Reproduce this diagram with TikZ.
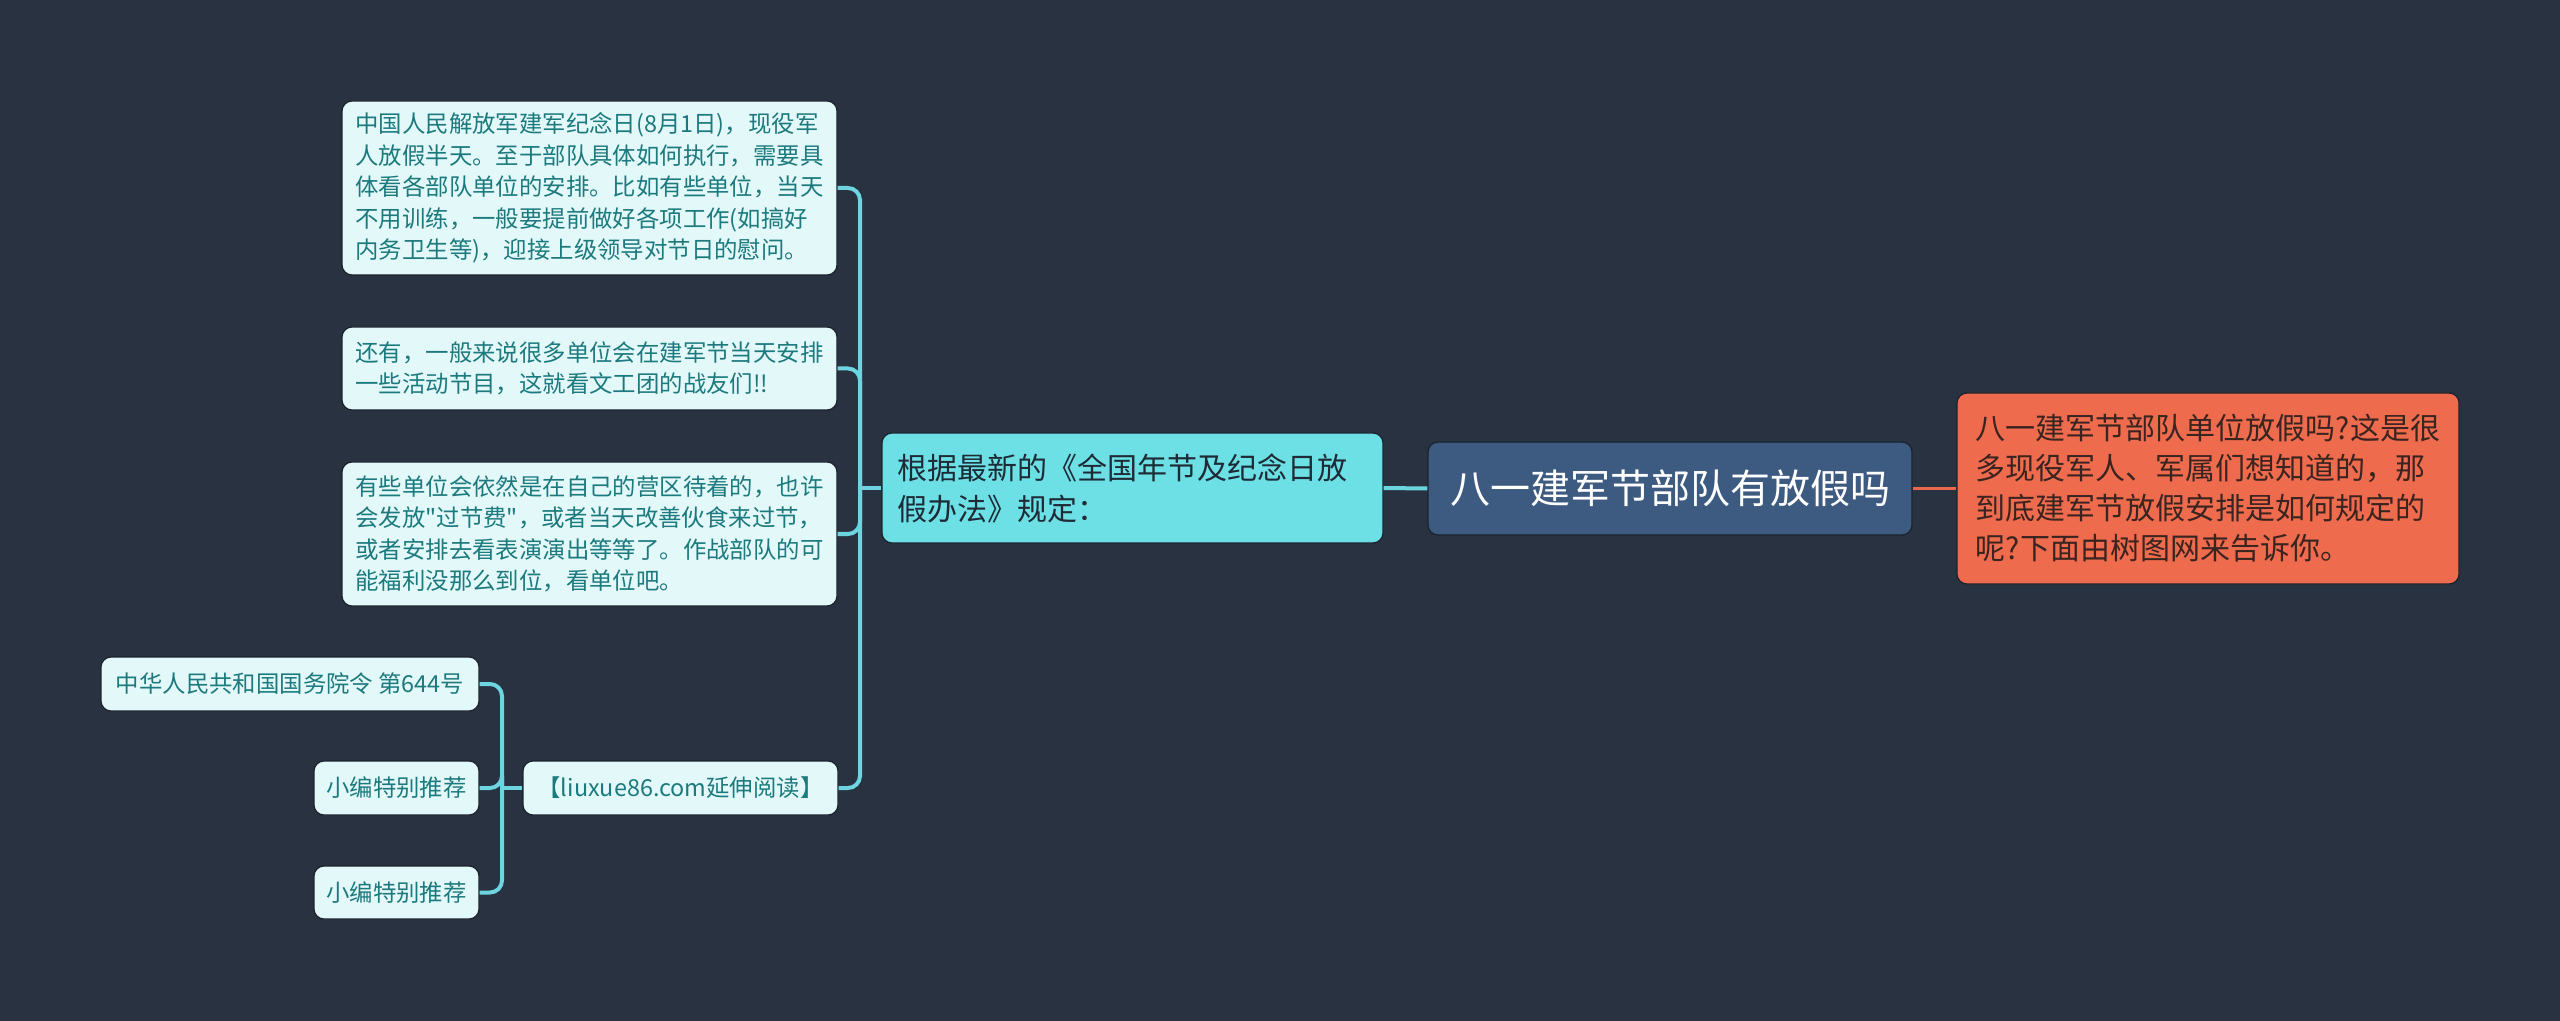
\documentclass[tikz,border=0pt]{standalone}
\usepackage{fontspec}
\newfontfamily\cjk{Noto Sans CJK SC}
\begin{document}
\begin{tikzpicture}[x=0.5pt, y=-0.5pt,
  every node/.style={inner sep=0pt, align=left},
  leaf/.style={fill=leafFill, draw=edgeDark, line width=0.6pt, rounded corners=5pt, text=leafText,
    font=\cjk\fontsize{11.7pt}{15.7pt}\selectfont},
  link/.style={draw=linkCyan, line width=2pt, rounded corners=6pt}]
  \definecolor{bgNavy}{HTML}{293240}
  \definecolor{edgeDark}{HTML}{1B222D}
  \definecolor{leafFill}{HTML}{E3F8F8}
  \definecolor{leafText}{HTML}{1C7A7E}
  \definecolor{midFill}{HTML}{6CE0E5}
  \definecolor{midText}{HTML}{1E2A36}
  \definecolor{rootFill}{HTML}{3D5A80}
  \definecolor{introFill}{HTML}{EF6B4E}
  \definecolor{introText}{HTML}{3A2420}
  \definecolor{linkCyan}{HTML}{6DD5E0}
  \definecolor{linkOrange}{HTML}{E8694C}
  \fill[bgNavy] (0,0) rectangle (2560,1021);
  \useasboundingbox (0,0) rectangle (2560,1021);
  % centre and right
  \node[fill=rootFill, draw=edgeDark, line width=0.6pt, rounded corners=5pt, text=white, align=center,
    font=\cjk\fontsize{20pt}{24pt}\selectfont, minimum width=242pt, minimum height=46.5pt] (title) at (1670,488.5)
    {八一建军节部队有放假吗};
  \node[fill=introFill, draw=edgeDark, line width=0.6pt, rounded corners=5pt, text=introText,
    font=\cjk\fontsize{15pt}{20pt}\selectfont, minimum width=251pt, minimum height=95.5pt] (intro) at (2208,488.5)
    {八一建军节部队单位放假吗?这是很\\多现役军人、军属们想知道的，那\\到底建军节放假安排是如何规定的\\呢?下面由树图网来告诉你。};
  \node[fill=midFill, draw=edgeDark, line width=0.6pt, rounded corners=5pt, text=midText,
    font=\cjk\fontsize{15pt}{20.5pt}\selectfont, text width=235.5pt, inner xsep=7.5pt, minimum height=55pt] (rules) at (1132.5,488)
    {根据最新的《全国年节及纪念日放\\假办法》规定：};
  % leaves
  \node[leaf, minimum width=247.5pt, minimum height=87pt] (holiday) at (589.5,188)
    {中国人民解放军建军纪念日(8月1日)，现役军\\人放假半天。至于部队具体如何执行，需要具\\体看各部队单位的安排。比如有些单位，当天\\不用训练，一般要提前做好各项工作(如搞好\\内务卫生等)，迎接上级领导对节日的慰问。};
  \node[leaf, minimum width=247.5pt, minimum height=41.5pt] (shows) at (589.5,368.5)
    {还有，一般来说很多单位会在建军节当天安排\\一些活动节目，这就看文工团的战友们!!};
  \node[leaf, minimum width=247.5pt, minimum height=72pt] (welfare) at (589.5,534)
    {有些单位会依然是在自己的营区待着的，也许\\会发放"过节费"，或者当天改善伙食来过节，\\或者安排去看表演演出等等了。作战部队的可\\能福利没那么到位，看单位吧。};
  \node[leaf, minimum width=157.5pt, minimum height=27pt] (reading) at (680.5,788)
    {【liuxue86.com延伸阅读】};
  \node[leaf, minimum width=189pt, minimum height=27pt] (decree) at (290,684)
    {中华人民共和国国务院令 第644号};
  \node[leaf, minimum width=82.5pt, minimum height=27pt] (pickA) at (396.5,788) {小编特别推荐};
  \node[leaf, minimum width=82.5pt, minimum height=26.5pt] (pickB) at (396.5,892.5) {小编特别推荐};
  % connectors
  \coordinate (mainbus) at (860,488);
  \coordinate (subbus) at (502,788);
  \draw[link] (title.west) -- (rules.east);
  \draw[link, draw=linkOrange, line width=1.5pt] (title.east) -- (intro.west);
  \draw[link] (rules.west) -- (mainbus);
  \foreach \n in {holiday,shows,welfare,reading}
    \draw[link] (mainbus) |- (\n.east);
  \draw[link] (reading.west) -- (subbus);
  \foreach \n in {decree,pickA,pickB}
    \draw[link] (subbus) |- (\n.east);
\end{tikzpicture}
\end{document}
